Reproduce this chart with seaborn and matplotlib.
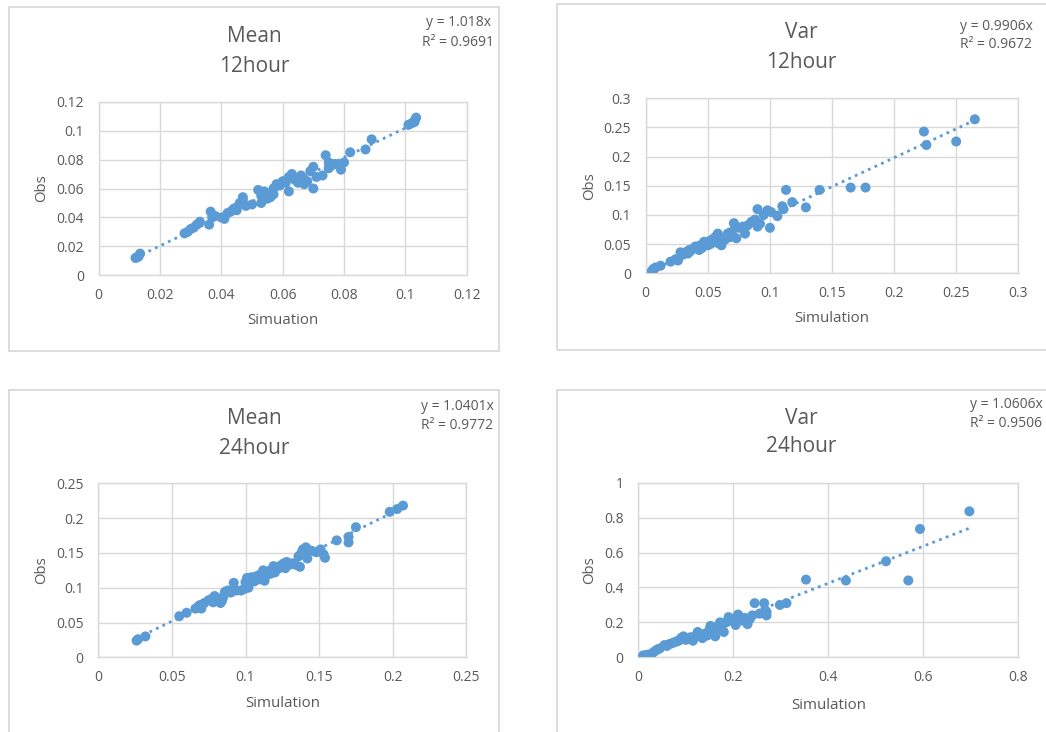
import numpy as np
import pandas as pd
import matplotlib
matplotlib.use("Agg")
import matplotlib.pyplot as plt
import seaborn as sns
from matplotlib.patches import Rectangle

# ---------------- data ----------------
mean12_sim = [0.012, 0.0125, 0.013, 0.0135, 0.028, 0.029, 0.030, 0.031, 0.032, 0.033,
              0.036, 0.0365, 0.037, 0.038, 0.040, 0.041, 0.042, 0.043, 0.044, 0.045,
              0.045, 0.046, 0.047, 0.047, 0.048, 0.050, 0.052, 0.053, 0.053, 0.054,
              0.055, 0.055, 0.056, 0.057, 0.057, 0.058, 0.059, 0.060, 0.061, 0.062,
              0.062, 0.063, 0.064, 0.065, 0.066, 0.067, 0.068, 0.069, 0.070, 0.070,
              0.071, 0.073, 0.074, 0.075, 0.075, 0.076, 0.077, 0.079, 0.080, 0.082,
              0.087, 0.089, 0.101, 0.102, 0.103, 0.1035, 0.103]
mean12_obs = [0.012, 0.0125, 0.013, 0.015, 0.029, 0.030, 0.032, 0.033, 0.035, 0.037,
              0.035, 0.044, 0.040, 0.041, 0.040, 0.039, 0.043, 0.044, 0.046, 0.047,
              0.045, 0.050, 0.052, 0.054, 0.048, 0.049, 0.059, 0.055, 0.050, 0.058,
              0.053, 0.056, 0.054, 0.056, 0.060, 0.063, 0.062, 0.065, 0.064, 0.058,
              0.068, 0.070, 0.066, 0.064, 0.069, 0.063, 0.065, 0.072, 0.060, 0.075,
              0.068, 0.069, 0.083, 0.074, 0.078, 0.076, 0.077, 0.073, 0.078, 0.085,
              0.087, 0.094, 0.104, 0.105, 0.107, 0.109, 0.106]

var12_sim = [0.005, 0.006, 0.007, 0.008, 0.012, 0.020, 0.024, 0.026, 0.028, 0.030,
             0.032, 0.034, 0.035, 0.036, 0.038, 0.040, 0.042, 0.043, 0.044, 0.045,
             0.046, 0.047, 0.048, 0.050, 0.050, 0.052, 0.052, 0.054, 0.055, 0.056,
             0.058, 0.058, 0.060, 0.061, 0.062, 0.064, 0.065, 0.066, 0.068, 0.068,
             0.070, 0.071, 0.072, 0.073, 0.075, 0.078, 0.080, 0.082, 0.085, 0.088,
             0.090, 0.090, 0.092, 0.095, 0.098, 0.100, 0.101, 0.106, 0.110, 0.111,
             0.113, 0.118, 0.129, 0.140, 0.165, 0.177, 0.224, 0.226, 0.250, 0.265]
var12_obs = [0.004, 0.007, 0.008, 0.010, 0.013, 0.020, 0.024, 0.022, 0.036, 0.032,
             0.036, 0.034, 0.040, 0.038, 0.042, 0.046, 0.044, 0.040, 0.048, 0.043,
             0.046, 0.054, 0.050, 0.052, 0.048, 0.056, 0.050, 0.058, 0.060, 0.062,
             0.068, 0.052, 0.060, 0.048, 0.055, 0.058, 0.063, 0.068, 0.062, 0.070,
             0.065, 0.086, 0.080, 0.060, 0.078, 0.080, 0.068, 0.082, 0.088, 0.092,
             0.110, 0.080, 0.085, 0.100, 0.108, 0.078, 0.105, 0.098, 0.115, 0.110,
             0.143, 0.122, 0.113, 0.143, 0.147, 0.147, 0.243, 0.220, 0.226, 0.264]

mean24_sim = [0.026, 0.027, 0.032, 0.055, 0.060, 0.066, 0.068, 0.069, 0.070, 0.072,
              0.075, 0.077, 0.078, 0.079, 0.080, 0.082, 0.083, 0.084, 0.085, 0.086,
              0.088, 0.090, 0.092, 0.092, 0.094, 0.097, 0.099, 0.100, 0.101, 0.102,
              0.103, 0.104, 0.105, 0.106, 0.107, 0.108, 0.109, 0.110, 0.111, 0.112,
              0.113, 0.114, 0.115, 0.116, 0.117, 0.118, 0.119, 0.120, 0.122, 0.124,
              0.126, 0.127, 0.128, 0.130, 0.132, 0.134, 0.136, 0.137, 0.138, 0.139,
              0.140, 0.141, 0.142, 0.143, 0.145, 0.148, 0.151, 0.153, 0.154, 0.162,
              0.170, 0.170, 0.175, 0.198, 0.203, 0.207]
mean24_obs = [0.024, 0.026, 0.030, 0.059, 0.064, 0.070, 0.073, 0.075, 0.070, 0.078,
              0.082, 0.084, 0.079, 0.088, 0.086, 0.083, 0.078, 0.081, 0.087, 0.094,
              0.096, 0.093, 0.098, 0.107, 0.096, 0.096, 0.098, 0.108, 0.114, 0.100,
              0.110, 0.115, 0.112, 0.109, 0.116, 0.113, 0.118, 0.112, 0.120, 0.125,
              0.110, 0.118, 0.122, 0.124, 0.120, 0.126, 0.131, 0.122, 0.127, 0.132,
              0.135, 0.128, 0.137, 0.133, 0.135, 0.133, 0.145, 0.130, 0.150, 0.155,
              0.148, 0.158, 0.142, 0.154, 0.153, 0.151, 0.155, 0.148, 0.143, 0.168,
              0.165, 0.173, 0.187, 0.209, 0.213, 0.218]

var24_sim = [0.010, 0.015, 0.020, 0.030, 0.035, 0.040, 0.045, 0.055, 0.060, 0.065,
             0.070, 0.075, 0.080, 0.085, 0.090, 0.095, 0.100, 0.105, 0.110, 0.115,
             0.120, 0.125, 0.130, 0.135, 0.140, 0.145, 0.150, 0.152, 0.155, 0.160,
             0.162, 0.165, 0.170, 0.172, 0.175, 0.180, 0.185, 0.190, 0.195, 0.200,
             0.205, 0.210, 0.215, 0.220, 0.225, 0.230, 0.235, 0.240, 0.245, 0.255,
             0.265, 0.267, 0.270, 0.270, 0.298, 0.312, 0.353, 0.437, 0.5215, 0.5685,
             0.593, 0.697]
var24_obs = [0.010, 0.012, 0.015, 0.025, 0.035, 0.045, 0.050, 0.070, 0.065, 0.075,
             0.080, 0.085, 0.090, 0.095, 0.110, 0.120, 0.100, 0.105, 0.115, 0.095,
             0.120, 0.145, 0.130, 0.110, 0.135, 0.125, 0.160, 0.180, 0.140, 0.150,
             0.120, 0.175, 0.160, 0.200, 0.180, 0.145, 0.200, 0.230, 0.210, 0.220,
             0.185, 0.245, 0.230, 0.210, 0.225, 0.190, 0.220, 0.240, 0.310, 0.250,
             0.310, 0.270, 0.240, 0.260, 0.300, 0.310, 0.445, 0.440, 0.550, 0.440,
             0.735, 0.836]

titles = [["Mean", "12hour"], ["Var", "12hour"], ["Mean", "24hour"], ["Var", "24hour"]]
xlabels = ["Simuation", "Simulation", "Simulation", "Simulation"]
ylabel = "Obs"
slopes = [1.018, 0.9906, 1.0401, 1.0606]
r2 = ["0.9691", "0.9672", "0.9772", "0.9506"]
slope_txt = ["1.018", "0.9906", "1.0401", "1.0606"]
x_ticks = [[0, 0.02, 0.04, 0.06, 0.08, 0.1, 0.12],
           [0, 0.05, 0.1, 0.15, 0.2, 0.25, 0.3],
           [0, 0.05, 0.1, 0.15, 0.2, 0.25],
           [0, 0.2, 0.4, 0.6, 0.8]]
y_ticks = [[0, 0.02, 0.04, 0.06, 0.08, 0.1, 0.12],
           [0, 0.05, 0.1, 0.15, 0.2, 0.25, 0.3],
           [0, 0.05, 0.1, 0.15, 0.2, 0.25],
           [0, 0.2, 0.4, 0.6, 0.8, 1]]

series = [(mean12_sim, mean12_obs), (var12_sim, var12_obs),
          (mean24_sim, mean24_obs), (var24_sim, var24_obs)]

# ---------------- style ----------------
sns.set_theme(style="white")
plt.rcParams["font.family"] = ["Open Sans", "DejaVu Sans"]

BLUE = "#5B9BD5"
GRID = "#D9D9D9"
TXT = "#595959"

W, H = 1046, 732
fig = plt.figure(figsize=(W / 100, H / 100), dpi=100, facecolor="white")

def fx(px):
    return px / W

def fy(py):
    return 1 - py / H

# axes rectangles in pixels: left, top, right, bottom
ax_px = [(98.7, 101.7, 466.7, 275.3),
         (645.7, 98.3, 1018.3, 273.3),
         (98.3, 483.3, 466.3, 657.3),
         (638.3, 482.7, 1018.3, 657.3)]
# panel boxes in pixels: left, top, right, bottom
box_px = [(9, 7.5, 499, 351.5),
          (556.5, 4.5, 1060, 350),
          (9, 390, 499, 760),
          (556.5, 390, 1060, 760)]
title_pos = [(254, 37, 66), (801.5, 33, 62), (254, 419, 448), (801.5, 418, 447)]
eq_pos = [(458, 23, 42), (996, 26, 44.5), (457, 406.5, 425.5), (1006, 404.5, 423.5)]
xlab_y = [-0.2615, -0.257, -0.264, -0.277]
ylab_x = [-0.155, -0.1495, -0.155, -0.129]

for i in range(4):
    bl, bt, br, bb = box_px[i]
    fig.patches.append(Rectangle((fx(bl), fy(bb)), fx(br - bl), (bb - bt) / H,
                                 transform=fig.transFigure, fill=False,
                                 edgecolor=GRID, linewidth=1.3, zorder=0))

    l, t, r, b = ax_px[i]
    ax = fig.add_axes([fx(l), fy(b), fx(r - l), (b - t) / H])
    xs, ys = series[i]
    df = pd.DataFrame({"Simulation": xs, "Obs": ys})

    xx = np.array([min(xs), max(xs)])
    ax.plot(xx, slopes[i] * xx, color=BLUE, linestyle=(0, (1, 1.6)),
            linewidth=2.0, zorder=2)
    sns.scatterplot(data=df, x="Simulation", y="Obs", ax=ax, color=BLUE,
                    s=52, edgecolor="none", linewidth=0, zorder=3, legend=False)

    ax.set_xlim(x_ticks[i][0], x_ticks[i][-1])
    ax.set_ylim(y_ticks[i][0], y_ticks[i][-1])
    ax.set_xticks(x_ticks[i])
    ax.set_yticks(y_ticks[i])
    ax.set_xticklabels([f"{v:g}" for v in x_ticks[i]])
    ax.set_yticklabels([f"{v:g}" for v in y_ticks[i]])
    ax.tick_params(axis="both", length=0, labelsize=10, labelcolor=TXT)
    ax.tick_params(axis="x", pad=9)
    ax.tick_params(axis="y", pad=10.5)
    ax.grid(True, color=GRID, linewidth=1.0)
    ax.set_axisbelow(True)
    for sp in ax.spines.values():
        sp.set_color(GRID)
        sp.set_linewidth(1.0)

    ax.set_xlabel(xlabels[i], fontsize=10.8, color=TXT, va="center")
    ax.set_ylabel(ylabel, fontsize=10.8, color=TXT, va="center")
    ax.xaxis.set_label_coords(0.5, xlab_y[i])
    ax.yaxis.set_label_coords(ylab_x[i], 0.5)

    tx, ty1, ty2 = title_pos[i]
    fig.text(fx(tx), fy(ty1), titles[i][0], ha="center", va="center",
             fontsize=15, color=TXT)
    fig.text(fx(tx), fy(ty2), titles[i][1], ha="center", va="center",
             fontsize=15, color=TXT)

    ex, ey1, ey2 = eq_pos[i]
    fig.text(fx(ex), fy(ey1), f"y = {slope_txt[i]}x", ha="center", va="center",
             fontsize=10, color=TXT)
    fig.text(fx(ex), fy(ey2), f"R² = {r2[i]}", ha="center", va="center",
             fontsize=10, color=TXT)

fig.savefig("out.png", dpi=100, facecolor="white")
